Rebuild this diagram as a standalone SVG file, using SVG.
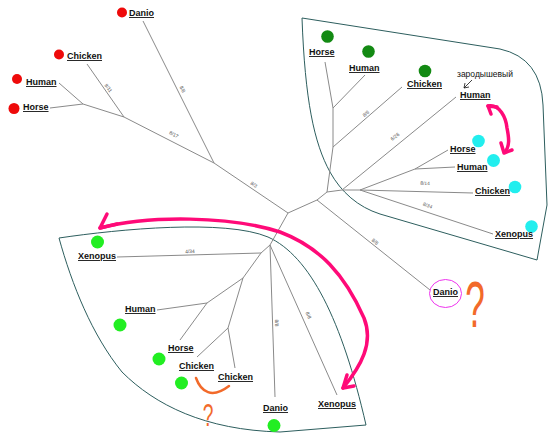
<svg xmlns="http://www.w3.org/2000/svg" width="558" height="438" viewBox="0 0 558 438">
<style>
.lbl{font-family:"Liberation Sans",Arial,sans-serif;font-size:9px;font-weight:bold;fill:#111;text-decoration:underline}
.bl{font-family:"Liberation Sans",Arial,sans-serif;font-size:5px;fill:#555}
.e{stroke:#8a8a8a;stroke-width:1;fill:none}
.bd{stroke:#2d5e5e;stroke-width:1;fill:none}
.pk{stroke:#ff0a78;stroke-width:3.5;fill:none;stroke-linecap:round;stroke-linejoin:round}
.or{stroke:#f26a2a;stroke-width:2.5;fill:none;stroke-linecap:round}
.red{fill:#ee0a0a}
.dg{fill:#138a13}
.cy{fill:#22eeee}
.lg{fill:#22ee22}
</style>
<rect width="558" height="438" fill="#ffffff"/>
<g id="clusters">
<path class="bd" d="M302,18 L500,49 Q541,58 543,105 L547,205 L537,260 L380,214 C358,207 341,192 330,172 C314,143 305,100 302,18 Z"/>
<path class="bd" d="M59,238 C120,229 225,219 268,237 C310,256 342,320 366,425 L280,432 C205,430 155,405 122,372 C92,335 72,285 59,238 Z"/>
</g>
<g id="connectors">
<line class="e" x1="143" y1="21" x2="214" y2="163"/>
<line class="e" x1="87" y1="64" x2="124" y2="117"/>
<line class="e" x1="59" y1="83" x2="83" y2="104"/>
<line class="e" x1="50" y1="108" x2="83" y2="104"/>
<line class="e" x1="83" y1="104" x2="124" y2="117"/>
<line class="e" x1="124" y1="117" x2="214" y2="163"/>
<line class="e" x1="214" y1="163" x2="288" y2="213"/>
<line class="e" x1="288" y1="213" x2="317" y2="200"/>
<line class="e" x1="317" y1="200" x2="327" y2="192"/>
<line class="e" x1="317" y1="200" x2="430" y2="290"/>
<line class="e" x1="327" y1="192" x2="333" y2="147"/>
<line class="e" x1="333" y1="147" x2="333" y2="108"/>
<line class="e" x1="333" y1="108" x2="325" y2="62"/>
<line class="e" x1="333" y1="108" x2="365" y2="75"/>
<line class="e" x1="333" y1="147" x2="402" y2="87"/>
<line class="e" x1="327" y1="192" x2="342" y2="190"/>
<line class="e" x1="342" y1="190" x2="456" y2="97"/>
<line class="e" x1="342" y1="190" x2="360" y2="190"/>
<line class="e" x1="360" y1="190" x2="415" y2="169"/>
<line class="e" x1="415" y1="169" x2="448" y2="150"/>
<line class="e" x1="415" y1="169" x2="455" y2="167"/>
<line class="e" x1="360" y1="190" x2="473" y2="193"/>
<line class="e" x1="360" y1="190" x2="493" y2="234"/>
<line class="e" x1="288" y1="213" x2="270" y2="245"/>
<line class="e" x1="270" y1="245" x2="261" y2="253"/>
<line class="e" x1="270" y1="245" x2="275" y2="397"/>
<line class="e" x1="270" y1="245" x2="337" y2="395"/>
<line class="e" x1="261" y1="253" x2="117" y2="257"/>
<line class="e" x1="261" y1="253" x2="243" y2="278"/>
<line class="e" x1="243" y1="278" x2="207" y2="303"/>
<line class="e" x1="243" y1="278" x2="228" y2="328"/>
<line class="e" x1="207" y1="303" x2="157" y2="310"/>
<line class="e" x1="207" y1="303" x2="180" y2="340"/>
<line class="e" x1="228" y1="328" x2="197" y2="357"/>
<line class="e" x1="228" y1="328" x2="235" y2="368"/>
<text class="bl" transform="translate(181,90) rotate(63)" text-anchor="middle">8/8</text>
<text class="bl" transform="translate(107,89) rotate(55)" text-anchor="middle">8/11</text>
<text class="bl" transform="translate(173,136) rotate(27)" text-anchor="middle">8/17</text>
<text class="bl" transform="translate(253,186) rotate(34)" text-anchor="middle">8/3</text>
<text class="bl" transform="translate(367,115) rotate(-41)" text-anchor="middle">8/6</text>
<text class="bl" transform="translate(396,138) rotate(-39)" text-anchor="middle">6/26</text>
<text class="bl" transform="translate(425,185) rotate(2)" text-anchor="middle">8/14</text>
<text class="bl" transform="translate(427,207) rotate(21)" text-anchor="middle">8/34</text>
<text class="bl" transform="translate(374,243) rotate(39)" text-anchor="middle">8/8</text>
<text class="bl" transform="translate(190,253) rotate(-2)" text-anchor="middle">4/34</text>
<text class="bl" transform="translate(275,323) rotate(88)" text-anchor="middle">8/8</text>
<text class="bl" transform="translate(307,316) rotate(66)" text-anchor="middle">8/8</text>
</g>
<g id="red-danio"><circle class="red" cx="122" cy="12.5" r="5"/><text class="lbl" x="129" y="16">Danio</text></g>
<g id="red-chicken"><circle class="red" cx="59" cy="54.5" r="5"/><text class="lbl" x="67" y="59">Chicken</text></g>
<g id="red-human"><circle class="red" cx="17" cy="79" r="5"/><text class="lbl" x="26" y="85">Human</text></g>
<g id="red-horse"><circle class="red" cx="14" cy="108.5" r="5.5"/><text class="lbl" x="23" y="110">Horse</text></g>
<g id="green-horse"><circle class="dg" cx="327.5" cy="36.5" r="6.3"/><text class="lbl" x="309" y="55">Horse</text></g>
<g id="green-human"><circle class="dg" cx="368.5" cy="51.5" r="6.3"/><text class="lbl" x="349" y="71">Human</text></g>
<g id="green-chicken"><circle class="dg" cx="425" cy="71" r="6.3"/><text class="lbl" x="407" y="87">Chicken</text></g>
<g id="embryo-human">
<text x="457" y="77" font-family="Liberation Sans, Arial, sans-serif" font-size="8.5" fill="#111">зародышевый</text>
<path d="M472,80 L464,88 M464,88 L465,83 M464,88 L469,87" stroke="#111" stroke-width="0.8" fill="none"/>
<text class="lbl" x="460" y="98">Human</text>
</g>
<g id="cyan-horse"><circle class="cy" cx="478.5" cy="141" r="6.3"/><text class="lbl" x="450" y="152">Horse</text></g>
<g id="cyan-human"><circle class="cy" cx="493.5" cy="160.5" r="6.5"/><text class="lbl" x="457" y="170">Human</text></g>
<g id="cyan-chicken"><circle class="cy" cx="515" cy="187" r="6.3"/><text class="lbl" x="475" y="194">Chicken</text></g>
<g id="cyan-xenopus"><circle class="cy" cx="531.5" cy="226.5" r="6.3"/><text class="lbl" x="495" y="237">Xenopus</text></g>
<g id="danio-circled">
<ellipse cx="445.5" cy="293.5" rx="16" ry="14" fill="none" stroke="#ee33ee" stroke-width="1"/>
<text class="lbl" x="433" y="295">Danio</text>
</g>
<g id="lg-xenopus"><circle class="lg" cx="97.5" cy="242" r="6.5"/><text class="lbl" x="78" y="259">Xenopus</text></g>
<g id="lg-human"><circle class="lg" cx="120" cy="325" r="6.5"/><text class="lbl" x="125" y="312">Human</text></g>
<g id="lg-horse"><circle class="lg" cx="159" cy="359" r="6.5"/><text class="lbl" x="168" y="351">Horse</text></g>
<g id="lg-chicken1"><circle class="lg" cx="181.5" cy="383" r="6.5"/><text class="lbl" x="179" y="369">Chicken</text></g>
<g id="lg-chicken2"><text class="lbl" x="218" y="380">Chicken</text></g>
<g id="lg-danio"><circle class="lg" cx="274" cy="425.5" r="6.5"/><text class="lbl" x="263" y="411">Danio</text></g>
<g id="lg-xenopus2"><text class="lbl" x="318" y="407">Xenopus</text></g>
<g id="annotations">
<path class="pk" d="M100,228 C150,215 230,216 280,232 C320,247 345,275 364,318 C374,343 361,366 343,388"/>
<path class="pk" d="M107,214 L100,228 L117,224"/>
<path class="pk" d="M347,375 L343,388 L354,386"/>
<path class="pk" d="M488,106 C500,104 506,118 507,128 C509,138 510,146 505,152"/>
<path class="pk" d="M497,107 L488,106 L491,114"/>
<path class="pk" d="M501,143 L504,153 L512,150"/>
<path class="or" d="M196,378 C201,392 212,399 229,386"/>
<text transform="translate(208,426) scale(0.6,1)" text-anchor="middle" font-family="Liberation Sans, Arial, sans-serif" font-size="32" fill="#f26a2a">?</text>
<text transform="translate(475,327) scale(0.55,1)" text-anchor="middle" font-family="Liberation Sans, Arial, sans-serif" font-size="64" fill="#f26a2a">?</text>
</g>
</svg>
